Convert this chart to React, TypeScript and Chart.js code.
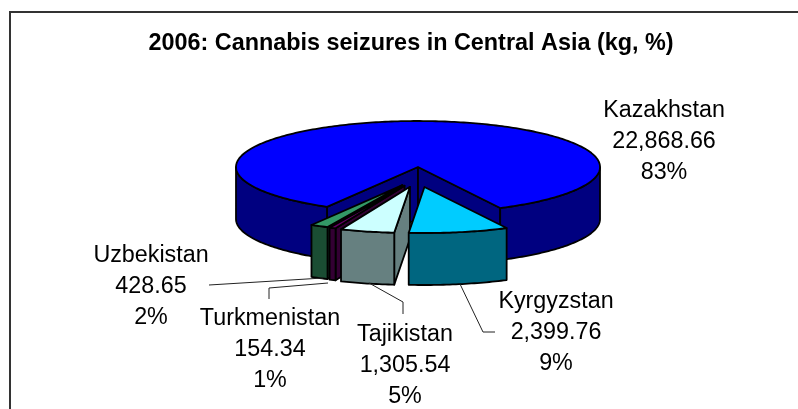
import React, { useEffect, useRef } from "react";
import { Chart, registerables } from "chart.js";

Chart.register(...registerables);

const titleText = "2006: Cannabis seizures in Central Asia (kg, %)";
const countries = ["Kazakhstan", "Kyrgyzstan", "Tajikistan", "Turkmenistan", "Uzbekistan"];
const seizures = [22868.66, 2399.76, 1305.54, 154.34, 428.65];
const percents = ["83%", "9%", "5%", "1%", "2%"];
const topColors = ["#0000FF", "#00CCFF", "#CCFFFF", "#660066", "#339966"];
const sideColors = ["#000080", "#006680", "#668080", "#330033", "#1A4D33"];
const explode = [0, 136, 136, 136, 136]; // Chart.js arcs shift by offset / 4

// Layout of the pseudo-3D projection
const PIE_CX = 418;
const PIE_CY = 167;
const RADIUS = 182;
const SQUASH = 0.2527;
const EXPLODE_SQUASH = 0.6;
const DEPTH = 52;
const DRAW_ORDER = [0, 4, 3, 2, 1];

// Label layout: centre x, first line's middle y, leader polyline
const labelLayout = [
  { cx: 664, y: 111, leader: [] },
  { cx: 556, y: 302, leader: [[460, 284], [483, 332], [495, 332]] },
  { cx: 405, y: 335, leader: [[369, 283], [403, 302], [403, 314]] },
  { cx: 270, y: 319, leader: [[328, 283], [269, 288], [269, 299]] },
  { cx: 151, y: 256, leader: [[323, 278], [209, 285]] },
];
const LINE_GAP = 30.6;
const LABEL_FONT = "23.3px 'Liberation Sans', Arial, sans-serif";

const fmt = (v: number) =>
  v.toLocaleString("en-US", { minimumFractionDigits: 2, maximumFractionDigits: 2 });

const pie3d = {
  id: "pie3d",
  beforeDraw(chart: any) {
    const { ctx, width, height } = chart;
    ctx.save();
    ctx.fillStyle = "#333333";
    ctx.fillRect(9, 11, width - 9, 2);
    ctx.fillRect(9, 11, 2, height - 11);
    ctx.restore();
  },
  beforeDatasetsDraw(chart: any) {
    const { ctx } = chart;
    const arcs = chart.getDatasetMeta(0).data;
    const STEP = Math.PI / 180;

    DRAW_ORDER.forEach((i) => {
      const arc = arcs[i];
      const a1: number = arc.startAngle;
      const a2: number = arc.endAngle;
      const r: number = arc.outerRadius;
      const off: number = (arc.options.offset || 0) / 4;
      const mid = (a1 + a2) / 2;
      const ox = PIE_CX + off * Math.cos(mid);
      const oy = PIE_CY + off * Math.sin(mid) * EXPLODE_SQUASH;
      const px = (a: number) => ox + r * Math.cos(a);
      const py = (a: number) => oy + r * Math.sin(a) * SQUASH;

      ctx.save();
      ctx.strokeStyle = arc.options.borderColor;
      ctx.lineWidth = 1.8;
      ctx.lineJoin = "round";

      const shape = (pts: number[][], fill: string) => {
        ctx.beginPath();
        pts.forEach((p, k) => (k ? ctx.lineTo(p[0], p[1]) : ctx.moveTo(p[0], p[1])));
        ctx.closePath();
        ctx.fillStyle = fill;
        ctx.fill();
        ctx.stroke();
      };
      const side = sideColors[i];
      const wall = (a: number) =>
        shape(
          [
            [ox, oy],
            [px(a), py(a)],
            [px(a), py(a) + DEPTH],
            [ox, oy + DEPTH],
          ],
          side
        );

      if (Math.cos(a1) < 0) wall(a1);
      if (Math.cos(a2) > 0) wall(a2);

      // Outer rim: only the stretches that face the viewer
      let run: number[] = [];
      const flush = () => {
        if (run.length > 1) {
          const top = run.map((a) => [px(a), py(a)]);
          const bottom = run.map((a) => [px(a), py(a) + DEPTH]).reverse();
          shape([...top, ...bottom], side);
        }
        run = [];
      };
      const n = Math.max(2, Math.ceil((a2 - a1) / STEP));
      for (let k = 0; k <= n; k++) {
        const a = a1 + ((a2 - a1) * k) / n;
        if (Math.sin(a) >= -0.001) run.push(a);
        else flush();
      }
      flush();

      // Top face
      const topPts: number[][] = [[ox, oy]];
      for (let k = 0; k <= n; k++) {
        const a = a1 + ((a2 - a1) * k) / n;
        topPts.push([px(a), py(a)]);
      }
      shape(topPts, arc.options.backgroundColor);
      ctx.restore();
    });

    // Leader lines and data labels
    ctx.save();
    ctx.strokeStyle = "#222222";
    ctx.lineWidth = 1;
    labelLayout.forEach((l) => {
      if (!l.leader.length) return;
      ctx.beginPath();
      l.leader.forEach((p, k) => (k ? ctx.lineTo(p[0], p[1]) : ctx.moveTo(p[0], p[1])));
      ctx.stroke();
    });
    ctx.fillStyle = "#000000";
    ctx.font = LABEL_FONT;
    ctx.textAlign = "center";
    ctx.textBaseline = "middle";
    countries.forEach((name, i) => {
      const l = labelLayout[i];
      [name, fmt(seizures[i]), percents[i]].forEach((t, k) => {
        ctx.fillText(t, l.cx, l.y + k * LINE_GAP);
      });
    });
    ctx.restore();
    return false;
  },
};

export default function App() {
  const ref = useRef<HTMLCanvasElement | null>(null);
  useEffect(() => {
    if (!ref.current) return;
    const chart = new Chart(ref.current, {
      type: "pie",
      data: {
        labels: countries,
        datasets: [
          {
            data: seizures,
            backgroundColor: topColors,
            borderColor: "#000000",
            borderWidth: 1.5,
            offset: explode,
            hoverOffset: 0,
          } as any,
        ],
      },
      options: {
        responsive: false,
        animation: false,
        rotation: -150,
        radius: RADIUS,
        layout: { padding: { left: 24, right: 0, top: 0, bottom: 0 } },
        events: [],
        plugins: {
          legend: { display: false },
          tooltip: { enabled: false },
          title: {
            display: true,
            text: titleText,
            color: "#000000",
            font: { family: "'Liberation Sans', Arial, sans-serif", size: 23.4, weight: "bold" },
            padding: { top: 30, bottom: 10 },
          },
        },
      } as any,
      plugins: [pie3d],
    });
    return () => chart.destroy();
  }, []);
  return (
    <div style={{ position: "fixed", left: 0, top: 0, width: 798, height: 409 }}>
      <canvas ref={ref} width={798} height={409} style={{ display: "block" }} />
    </div>
  );
}
